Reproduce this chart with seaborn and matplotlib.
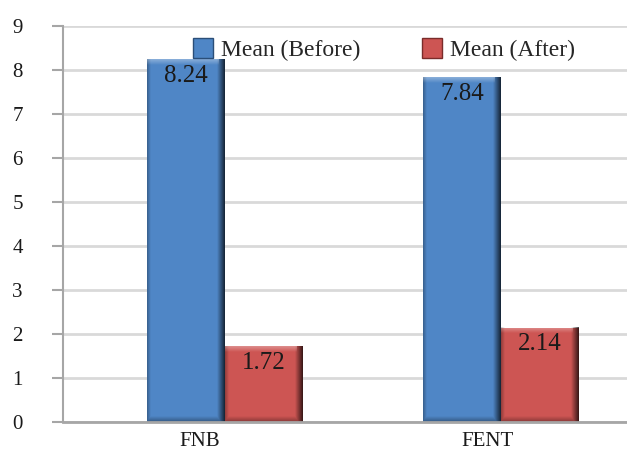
import matplotlib
matplotlib.use("Agg")
import matplotlib.pyplot as plt
from matplotlib.lines import Line2D
import numpy as np
import seaborn as sns
import pandas as pd

# Data
categories = ["FNB", "FENT"]
series_names = ["Mean (Before)", "Mean (After)"]
mean_before = [8.24, 7.84]
mean_after = [1.72, 2.14]
y_ticks = list(range(10))

colors = ["#4F86C6", "#CD5553"]
edge_colors = ["#2B4E78", "#7A2C2A"]

df = pd.DataFrame({
    "group": categories * 2,
    "series": [series_names[0]] * len(categories) + [series_names[1]] * len(categories),
    "value": mean_before + mean_after,
})

sns.set_theme(style="white")
plt.rcParams["font.family"] = ["Liberation Serif", "DejaVu Serif"]

fig = plt.figure(figsize=(6.27, 4.51), dpi=100)
ax = fig.add_axes([0.1005, 0.0643, 0.8995, 0.8781])

sns.barplot(data=df, x="group", y="value", hue="series", order=categories,
            hue_order=series_names, palette=colors, saturation=1,
            width=0.565, ax=ax, legend=False, errorbar=None)

for container in ax.containers:
    for bar in container:
        bar.set_edgecolor("none")

XLIM = (-0.587, 1.457)
YLIM = (0, 9)
ax.set_xlim(*XLIM)
ax.set_ylim(*YLIM)

# Bevel shading laid over each bar: dark right/bottom rims, light top rim
fig.canvas.draw()
for container in ax.containers:
    for bar in container:
        ext = bar.get_window_extent()
        w = max(int(round(ext.width)), 2)
        h = max(int(round(ext.height)), 2)
        xs = np.arange(w) + 0.5
        ys = np.arange(h) + 0.5          # from top
        d_right = (w - xs)[None, :].repeat(h, 0)
        d_left = xs[None, :].repeat(h, 0)
        d_top = ys[:, None].repeat(w, 1)
        d_bot = (h - ys)[:, None].repeat(w, 1)
        dark = np.maximum.reduce([
            np.clip(1 - d_right / 8, 0, 1) * 0.75,
            np.clip(1 - d_bot / 6, 0, 1) * 0.35,
            np.clip(1 - d_left / 4, 0, 1) * 0.30,
        ])
        light = np.clip(1 - d_top / 6, 0, 1) * 0.35
        light = np.where(d_right < 6, 0, light)
        dark_img = np.zeros((h, w, 4)); dark_img[..., 3] = dark
        light_img = np.ones((h, w, 4)); light_img[..., 3] = light
        x0, y0 = bar.get_x(), bar.get_y()
        x1, y1 = x0 + bar.get_width(), y0 + bar.get_height()
        for img in (dark_img, light_img):
            ax.imshow(img, extent=(x0, x1, y0, y1), aspect="auto",
                      interpolation="bilinear", zorder=bar.get_zorder() + 0.1)

ax.set_xlim(*XLIM)
ax.set_ylim(*YLIM)

# Value labels just inside the top of each bar
for container, vals in zip(ax.containers, [mean_before, mean_after]):
    for bar, v in zip(container, vals):
        ax.annotate(f"{v:.2f}", xy=(bar.get_x() + bar.get_width() / 2, v),
                    xytext=(0, -4), textcoords="offset points",
                    ha="center", va="top", fontsize=18, color="#1a1a1a",
                    zorder=5)

ax.set_yticks(y_ticks)
ax.set_yticklabels([str(t) for t in y_ticks], fontsize=15, color="#1a1a1a")
# Category labels sit a little left of each bar pair
ax.set_xticks([-0.09, 0.953])
ax.set_xticklabels(categories, fontsize=15, color="#1a1a1a")
ax.set_xlabel("")
ax.set_ylabel("")

ax.set_xticks([XLIM[0], 0.457], minor=True)
ax.tick_params(axis="x", which="major", length=0, pad=7)
ax.tick_params(axis="x", which="minor", length=4, width=1.2, color="#A6A6A6", direction="out")
ax.tick_params(axis="y", which="major", length=8, width=1.5, color="#A6A6A6", pad=21, left=True)

ax.yaxis.grid(True, color="#D9D9D9", linewidth=2)
ax.xaxis.grid(False)
ax.set_axisbelow(True)

for side in ["top", "right"]:
    ax.spines[side].set_visible(False)
ax.spines["left"].set_color("#A6A6A6")
ax.spines["left"].set_linewidth(1.5)
ax.spines["bottom"].set_color("#A6A6A6")
ax.spines["bottom"].set_linewidth(2)

handles = [Line2D([0], [0], marker="s", linestyle="none", markersize=14,
                  markerfacecolor=c, markeredgecolor=ec)
           for c, ec in zip(colors, edge_colors)]
ax.legend(handles, series_names, loc="center", bbox_to_anchor=(0.569, 0.939),
          ncol=2, frameon=False, fontsize=17, columnspacing=2.6,
          handletextpad=0.3, handlelength=0.9)

fig.savefig("out.png", dpi=100)
